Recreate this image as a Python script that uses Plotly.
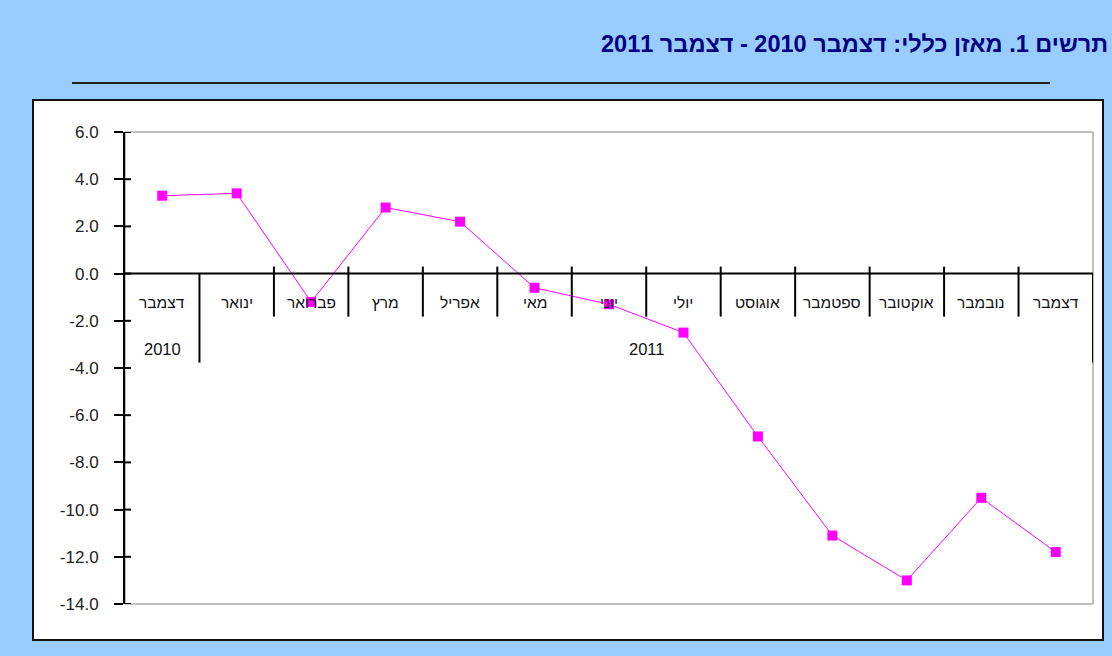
import plotly.graph_objects as go

months = ["דצמבר", "ינואר", "פברואר", "מרץ", "אפריל", "מאי", "יוני",
          "יולי", "אוגוסט", "ספטמבר", "אוקטובר", "נובמבר", "דצמבר"]
years = ["2010", "2011"]
year_span = [1, 12]  # number of months in each year group
values = [3.3, 3.4, -1.2, 2.8, 2.2, -0.6, -1.3, -2.5, -6.9, -11.1, -13.0, -9.5, -11.8]
y_ticks = [6, 4, 2, 0, -2, -4, -6, -8, -10, -12, -14]
y_tick_text = ["6.0", "4.0", "2.0", "0.0", "-2.0", "-4.0", "-6.0", "-8.0", "-10.0", "-12.0", "-14.0"]
title = "תרשים 1. מאזן כללי: דצמבר 2010 - דצמבר 2011"

W, H = 1112, 656
L, R, T, B = 125, 19, 132, 52
pw, ph = W - L - R, H - T - B

def px_x(p):
    return (p - L) / pw

def px_y(p):
    return (H - B - p) / ph

n = len(months)
xs = [i + 0.5 for i in range(n)]

fig = go.Figure()
fig.add_trace(go.Scatter(
    x=xs, y=values, mode="lines+markers",
    line=dict(color="#FF00FF", width=1),
    marker=dict(symbol="square", size=10, color="#FF00FF"),
    hoverinfo="skip", showlegend=False, cliponaxis=False,
))

shapes = []
# white chart box
shapes.append(dict(type="rect", xref="paper", yref="paper", layer="below",
                   x0=px_x(33), x1=px_x(1103), y0=px_y(640), y1=px_y(100),
                   fillcolor="white", line=dict(color="#111111", width=2)))
# plot area border (gray)
shapes.append(dict(type="rect", xref="paper", yref="paper", layer="below",
                   x0=0, x1=1, y0=0, y1=1, fillcolor="rgba(0,0,0,0)",
                   line=dict(color="#808080", width=1)))
# separator line under title
shapes.append(dict(type="line", xref="paper", yref="paper",
                   x0=px_x(72), x1=px_x(1050), y0=px_y(83), y1=px_y(83),
                   line=dict(color="#222222", width=2)))
# zero line
shapes.append(dict(type="line", xref="x", yref="y", x0=0, x1=n, y0=0, y1=0,
                   line=dict(color="#000000", width=2)))
# category tick marks at boundaries
group_edges = [0]
for s in year_span:
    group_edges.append(group_edges[-1] + s)
for k in range(1, n + 1):
    long_tick = k in group_edges
    shapes.append(dict(type="line", xref="x", yref="y", ysizemode="pixel", yanchor=0,
                       x0=k, x1=k, y0=7 if not long_tick else 0, y1=-89 if long_tick else -43,
                       line=dict(color="#000000", width=2)))
# y-axis inner tick portions
for t in y_ticks:
    shapes.append(dict(type="line", xref="paper", yref="y",
                       x0=0, x1=px_x(L + 6), y0=t, y1=t,
                       line=dict(color="#000000", width=2)))

annotations = []
for i, m in enumerate(months):
    annotations.append(dict(x=xs[i], y=0, xref="x", yref="y", text=m, showarrow=False,
                            yshift=-29, font=dict(family="Liberation Sans, Arial", size=15.5, color="#111111")))
start = 0
for yr, span in zip(years, year_span):
    annotations.append(dict(x=start + span / 2, y=0, xref="x", yref="y", text=yr, showarrow=False,
                            yshift=-75, font=dict(family="Liberation Sans, Arial", size=16.5, color="#111111")))
    start += span
annotations.append(dict(x=px_x(1110), y=px_y(44), xref="paper", yref="paper", text="<b>" + title + "</b>",
                        showarrow=False, xanchor="right", yanchor="middle",
                        font=dict(family="Liberation Sans, Arial", size=23.5, color="#000080")))

fig.update_layout(
    width=W, height=H,
    margin=dict(l=L, r=R, t=T, b=B, pad=0),
    paper_bgcolor="#99CCFF", plot_bgcolor="white",
    shapes=shapes, annotations=annotations,
    xaxis=dict(range=[0, n], visible=False, fixedrange=True),
    yaxis=dict(range=[-14, 6], tickvals=y_ticks, ticktext=y_tick_text,
               showgrid=False, zeroline=False, showline=True, linecolor="#000000", linewidth=2,
               ticks="outside", ticklen=9, tickwidth=2, tickcolor="#000000",
               ticklabelstandoff=12, fixedrange=True,
               tickfont=dict(family="Liberation Sans, Arial", size=17, color="#222222")),
)
fig.write_html("out.html", config={"displayModeBar": False},
               post_script="document.body.style.margin='0';document.body.style.overflow='hidden';")
